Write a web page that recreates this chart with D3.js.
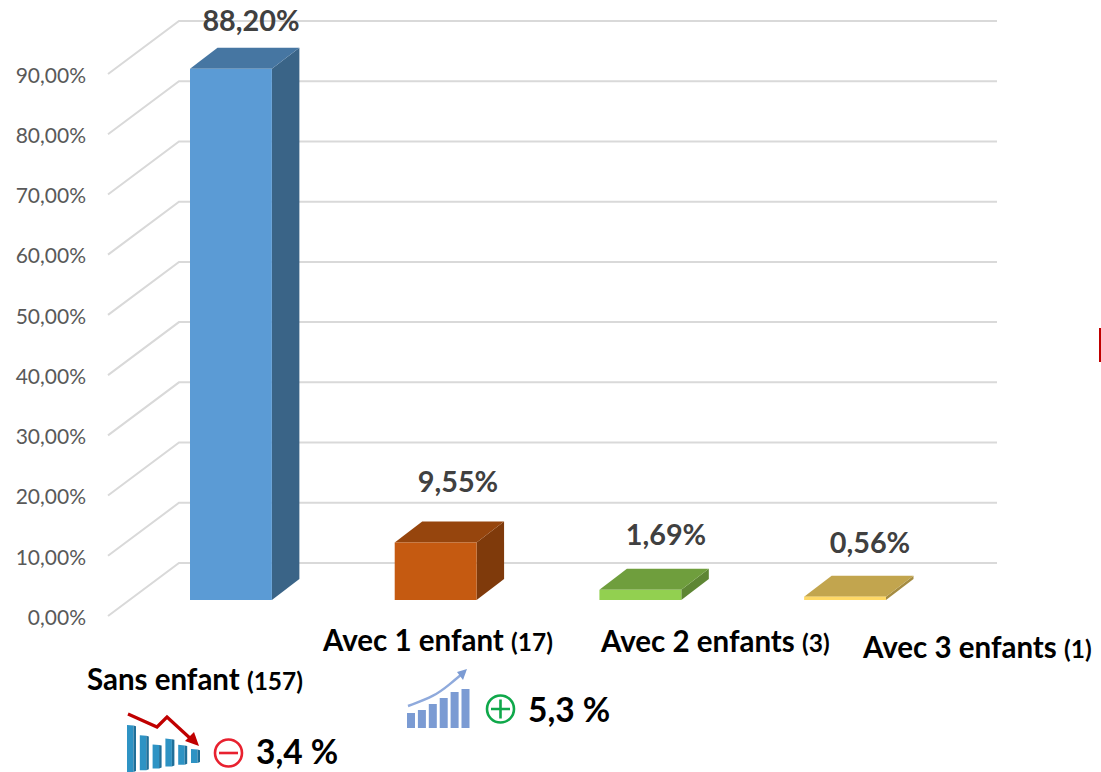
<!DOCTYPE html>
<html><head><meta charset="utf-8">
<style>html,body{margin:0;padding:0;background:#fff;overflow:hidden}svg{display:block}text{font-family:Lato,"Open Sans",sans-serif}</style>
<script src="https://cdn.jsdelivr.net/npm/d3@7/dist/d3.min.js"></script>
</head><body><svg id="c" width="1101" height="772"></svg>
<script>
const categories = ["Sans enfant","Avec 1 enfant","Avec 2 enfants","Avec 3 enfants"];
const counts = ["(157)","(17)","(3)","(1)"];
const values = [88.20,9.55,1.69,0.56];
const valueLabels = ["88,20%","9,55%","1,69%","0,56%"];
const ticks = [0,10,20,30,40,50,60,70,80,90];
const downIconBars = [47,35,24,28,20,14];
const upIconBars = [15,18,24,30,36,39];
const changes = ["3,4 %","5,3 %"];

const faces = [
 {front:"#5b9bd5",top:"#4676a2",side:"#3a6487"},
 {front:"#c55a11",top:"#96450d",side:"#7f3a0b"},
 {front:"#92d050",top:"#6f9e3d",side:"#5e8634"},
 {front:"#ffd966",top:"#c2a54e",side:"#a58c42"}
];
const labelPos=[[251,31],[458,492],[666,545],[870,553]];
const catPos=[[87,690],[323,651],[601,652],[863,658]];

const svg=d3.select("#c");
const y=d3.scaleLinear().domain([0,90]).range([616,74]);
const x=d3.scaleBand().domain(categories).range([190,886]).paddingInner(0.6).paddingOuter(0);
const wall={dx:71,dy:-53}, barBase=-16, depth={dx:27.5,dy:-21};
const f=v=>d3.format(".2f")(v).replace(".",",")+"%";

// grid
const g=svg.append("g").attr("fill","none").attr("stroke","#d9d9d9").attr("stroke-width",2);
ticks.forEach(t=>{
 g.append("path").attr("d",d3.line()([[108,y(t)],[108+wall.dx,y(t)+wall.dy],[997,y(t)+wall.dy]]));
});
// tick labels
svg.append("g").selectAll("text").data(ticks).join("text")
 .attr("x",86).attr("y",t=>y(t)+8.8).attr("text-anchor","end")
 .attr("font-size",21).attr("fill","#595959").text(f);

// bars
categories.forEach((c,i)=>{
 const x0=x(c),x1=x0+x.bandwidth(),b=616+barBase,tp=y(values[i])+barBase,{dx,dy}=depth;
 const bar=svg.append("g");
 bar.append("path").attr("fill",faces[i].side).attr("d",d3.line()([[x1,b],[x1,tp],[x1+dx,tp+dy],[x1+dx,b+dy]])+"Z");
 bar.append("path").attr("fill",faces[i].top).attr("d",d3.line()([[x0,tp],[x0+dx,tp+dy],[x1+dx,tp+dy],[x1,tp]])+"Z");
 bar.append("rect").attr("x",x0).attr("y",tp).attr("width",x.bandwidth()).attr("height",b-tp).attr("fill",faces[i].front);
 svg.append("text").attr("x",labelPos[i][0]).attr("y",labelPos[i][1]).attr("text-anchor","middle")
  .attr("font-size",28.8).attr("font-weight",700).attr("fill","#404040").text(valueLabels[i]);
 const t=svg.append("text").attr("x",catPos[i][0]).attr("y",catPos[i][1]).attr("font-weight",700).attr("fill","#000");
 t.append("tspan").attr("font-size",29.5).text(c+" ");
 t.append("tspan").attr("font-size",24.5).text(counts[i]);
});

// down icon
const dn=svg.append("g");
downIconBars.forEach((h,i)=>{
 const bx=127+i*12.8, bot=772-i*1.8, w=9;
 dn.append("path").attr("fill","#2e93c4").attr("d",d3.line()([[bx,bot-h],[bx+w*0.72,bot-h+0.6],[bx+w*0.72,bot],[bx,bot]])+"Z");
 dn.append("path").attr("fill","#1f6f99").attr("d",d3.line()([[bx+w*0.72,bot-h+0.6],[bx+w,bot-h+1.2],[bx+w,bot-1],[bx+w*0.72,bot]])+"Z");
});
dn.append("path").attr("fill","none").attr("stroke","#c00000").attr("stroke-width",3.2)
 .attr("d",d3.line()([[128,714],[157,727],[167,717],[192,740]]));
dn.append("path").attr("fill","#c00000").attr("d",d3.line()([[199,746],[185,741],[194,732]])+"Z");
svg.append("circle").attr("cx",228.5).attr("cy",753).attr("r",13.5).attr("fill","none").attr("stroke","#e8212f").attr("stroke-width",2.6);
svg.append("path").attr("stroke","#e8212f").attr("stroke-width",2.6).attr("d",d3.line()([[219,753],[238,753]]));
svg.append("text").attr("x",256).attr("y",764).attr("font-size",33.5).attr("font-weight",700).attr("fill","#000").text(changes[0]);

// up icon
const up=svg.append("g");
upIconBars.forEach((h,i)=>{
 up.append("rect").attr("x",407+i*10.9).attr("y",728-h).attr("width",8).attr("height",h).attr("fill","#7b9bd3");
});
up.append("path").attr("fill","none").attr("stroke","#8faadc").attr("stroke-width",2.4)
 .attr("d",d3.line().curve(d3.curveBasis)([[408,706],[435,696],[450,684],[462,674]]));
up.append("path").attr("fill","#7b9bd3").attr("d",d3.line()([[467,669],[463,680],[457,672]])+"Z");
svg.append("circle").attr("cx",500.5).attr("cy",709).attr("r",13.5).attr("fill","none").attr("stroke","#0fa84a").attr("stroke-width",2.6);
svg.append("path").attr("stroke","#0fa84a").attr("stroke-width",2.6).attr("d","M491,709H510M500.5,699.5V718.5");
svg.append("text").attr("x",528).attr("y",722).attr("font-size",33.5).attr("font-weight",700).attr("fill","#000").text(changes[1]);

// stray mark
svg.append("rect").attr("x",1099).attr("y",328).attr("width",2).attr("height",34).attr("fill","#c00000");
</script></body></html>
